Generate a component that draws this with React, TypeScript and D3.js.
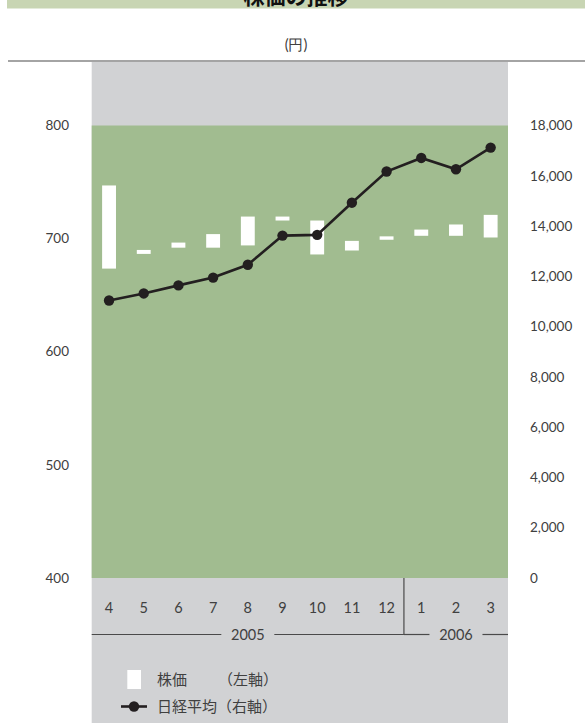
import React, { useEffect } from "react";
import * as d3 from "d3";

// ---- data ----
const months = ["4", "5", "6", "7", "8", "9", "10", "11", "12", "1", "2", "3"];
const yearLabels = ["2005", "2006"];
const yearFirstIndex = [0, 9];
const yearLastIndex = [8, 11];
// 株価 (left axis): monthly range bars
const priceHigh = [747, 690, 696.5, 704, 719.5, 719.5, 716, 698, 702, 708, 712.5, 721];
const priceLow = [673.5, 686.5, 692, 692, 694, 716, 686, 689.5, 699, 702.5, 702.5, 701];
// 日経平均 (right axis)
const nikkei = [11040, 11320, 11640, 11950, 12460, 13620, 13650, 14930, 16170, 16710, 16260, 17120];
const leftTicks = [400, 500, 600, 700, 800];
const rightTicks = [0, 2000, 4000, 6000, 8000, 10000, 12000, 14000, 16000, 18000];

const W = 585;
const H = 723;
const plotL = 91.7;
const plotR = 508;
const plotT = 125.5;
const plotB = 578;

const GREEN = "#a1bc90";
const GRAY = "#d1d2d4";
const INK = "#231f20";
const TEXT = "#404040";
const LATIN = "Lato, 'Noto Sans', sans-serif";
const CJK = "'Noto Sans CJK JP', 'Noto Sans', sans-serif";

export default function App() {
  useEffect(() => {
    document.body.style.margin = "0";
  }, []);

  const x = d3.scaleBand<string>().domain(months).range([plotL, plotR]).padding(0);
  const bw = x.bandwidth();
  const cx = (i: number) => (x(months[i]) as number) + bw / 2;
  const yL = d3.scaleLinear().domain([400, 800]).range([plotB, plotT]);
  const yR = d3.scaleLinear().domain([0, 18000]).range([plotB, plotT]);
  const barW = bw * 0.4;

  const line = d3
    .line<number>()
    .x((_, i) => cx(i))
    .y((d) => yR(d));

  const yearLineY = 634.5;
  const monthY = 608;
  const dividerX = x(months[9]) as number;
  const gapHalf = 26.5;

  return (
    <svg
      width={W}
      height={H}
      viewBox={`0 0 ${W} ${H}`}
      style={{ position: "absolute", left: 0, top: 0, display: "block" }}
    >
      <rect x={0} y={0} width={W} height={H} fill="#ffffff" />
      {/* header band with clipped title */}
      <defs>
        <clipPath id="hdr">
          <rect x={7} y={0} width={W - 7} height={8.5} />
        </clipPath>
      </defs>
      <rect x={7} y={0} width={W - 7} height={8.5} fill="#c8d5b3" />
      <text
        x={296}
        y={4}
        textAnchor="middle"
        fontFamily={CJK}
        fontWeight={700}
        fontSize={21}
        fill="#111"
        clipPath="url(#hdr)"
      >
        株価の推移
      </text>

      <text x={296} y={45} dy="0.35em" textAnchor="middle" fontFamily={LATIN} fontSize={14.5} fill={TEXT}>
        (円)
      </text>
      <line x1={8} x2={W} y1={61} y2={61} stroke="#4a4a4a" strokeWidth={1.2} />

      {/* gray panel */}
      <rect x={plotL} y={62} width={plotR - plotL} height={H - 62} fill={GRAY} />
      {/* green plot */}
      <rect x={plotL} y={plotT} width={plotR - plotL} height={plotB - plotT} fill={GREEN} />

      {/* left axis labels */}
      {leftTicks.map((t) => (
        <text
          key={"l" + t}
          x={69}
          y={yL(t)}
          dy="0.35em"
          textAnchor="end"
          fontFamily={LATIN}
          fontSize={13.5}
          fill={TEXT}
        >
          {d3.format(",")(t)}
        </text>
      ))}
      {/* right axis labels */}
      {rightTicks.map((t) => (
        <text
          key={"r" + t}
          x={530}
          y={yR(t)}
          dy="0.35em"
          textAnchor="start"
          fontFamily={LATIN}
          fontSize={13.5}
          fill={TEXT}
        >
          {d3.format(",")(t)}
        </text>
      ))}

      {/* bars */}
      {months.map((m, i) => (
        <rect
          key={"b" + m}
          x={cx(i) - barW / 2}
          y={yL(priceHigh[i])}
          width={barW}
          height={yL(priceLow[i]) - yL(priceHigh[i])}
          fill="#ffffff"
        />
      ))}

      {/* nikkei line */}
      <path d={line(nikkei) || ""} fill="none" stroke={INK} strokeWidth={2.6} />
      {nikkei.map((v, i) => (
        <circle key={"c" + i} cx={cx(i)} cy={yR(v)} r={5.2} fill={INK} />
      ))}

      {/* month labels */}
      {months.map((m, i) => (
        <text
          key={"m" + m}
          x={cx(i)}
          y={monthY}
          dy="0.35em"
          textAnchor="middle"
          fontFamily={LATIN}
          fontSize={14.5}
          fill={TEXT}
        >
          {m}
        </text>
      ))}

      {/* divider */}
      <line x1={dividerX} x2={dividerX} y1={plotB} y2={yearLineY} stroke="#4a4a4a" strokeWidth={1.2} />

      {/* year groups */}
      {yearLabels.map((yl, k) => {
        const left = x(months[yearFirstIndex[k]]) as number;
        const right = (x(months[yearLastIndex[k]]) as number) + bw;
        const c = (cx(yearFirstIndex[k]) + cx(yearLastIndex[k])) / 2;
        return (
          <g key={"y" + yl}>
            <line x1={left} x2={c - gapHalf} y1={yearLineY} y2={yearLineY} stroke="#4a4a4a" strokeWidth={1.2} />
            <line x1={c + gapHalf} x2={right} y1={yearLineY} y2={yearLineY} stroke="#4a4a4a" strokeWidth={1.2} />
            <text
              x={c}
              y={yearLineY}
              dy="0.35em"
              textAnchor="middle"
              fontFamily={LATIN}
              fontSize={14.5}
              fill={TEXT}
            >
              {yl}
            </text>
          </g>
        );
      })}

      {/* legend */}
      <rect x={127.3} y={670} width={13.7} height={19} fill="#ffffff" />
      <text x={157} y={680} dy="0.35em" fontFamily={CJK} fontSize={15} fill={TEXT}>
        株価
      </text>
      <text x={218} y={680} dy="0.35em" fontFamily={CJK} fontSize={15} fill={TEXT}>
        （左軸）
      </text>
      <line x1={121} x2={147} y1={706.5} y2={706.5} stroke={INK} strokeWidth={2.6} />
      <circle cx={134} cy={706.5} r={5.2} fill={INK} />
      <text x={157} y={706.5} dy="0.35em" fontFamily={CJK} fontSize={15} fill={TEXT}>
        日経平均（右軸）
      </text>
    </svg>
  );
}
